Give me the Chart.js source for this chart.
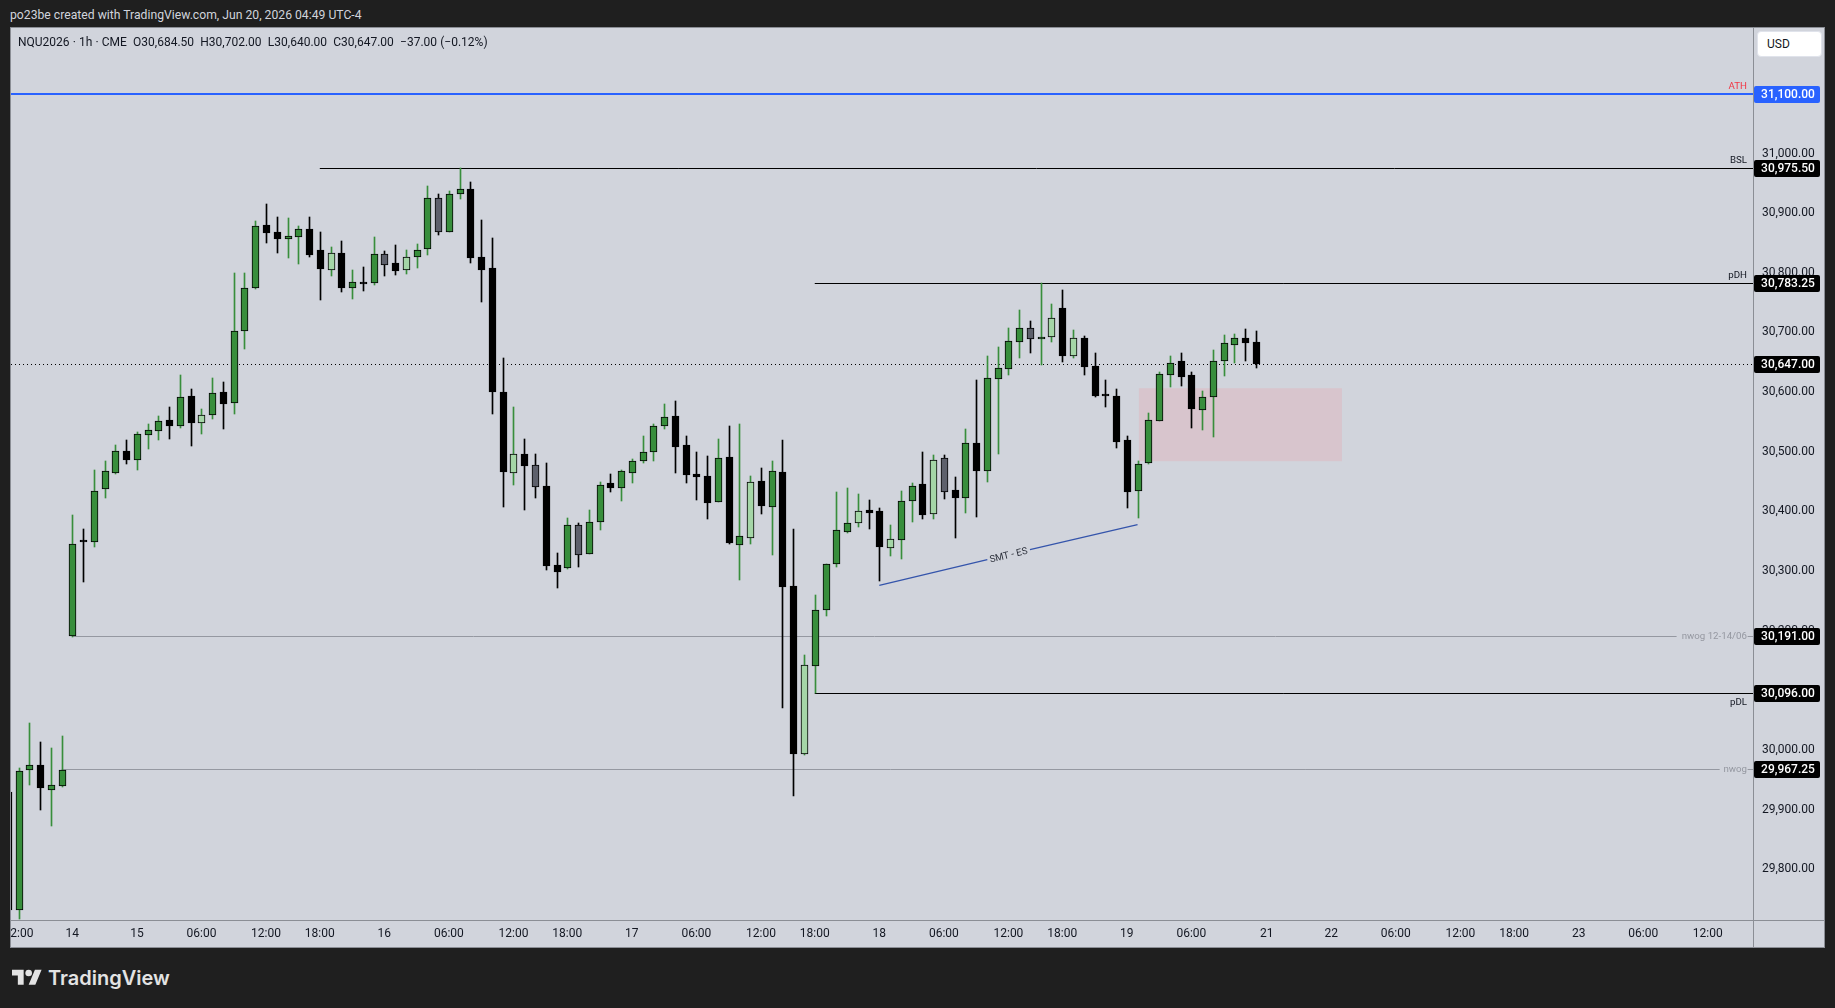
<!DOCTYPE html>
<html lang="en">
<head>
<meta charset="UTF-8">
<title>NQU2026 1h</title>
<script src="https://cdn.jsdelivr.net/npm/chart.js"></script>
<style>
  html, body { margin: 0; width: 1835px; height: 1008px; overflow: hidden; background: #1f1f1f; font-family: Roboto, sans-serif; }
  .abs { position: absolute; white-space: pre; }
  #panel { left: 10px; top: 27px; width: 1813px; height: 919px; background: #d1d4dc; border: 1px solid #8b8e95; }
  #chart { position: absolute; left: 11px; top: 28px; }
  #caption { left: 10px; top: 7px; color: #d1d4dc; font-size: 12.2px; line-height: 16px; }
  #legend { left: 18px; top: 34px; color: #131722; font-size: 12px; line-height: 16px; word-spacing: 0.15px; }
  #currency { left: 1757px; top: 31px; width: 54px; height: 24px; padding-left: 9px; line-height: 24px; background: #fff; border: 1px solid #e0e3eb; border-radius: 4px; color: #131722; font-size: 12px; }
  #logo { left: 12px; top: 966px; }
  #brand { left: 48px; top: 964px; color: #e3e3e3; font-family: Inter, sans-serif; font-weight: 600; font-size: 20px; line-height: 28px; }
</style>
</head>
<body>
<div class="abs" id="panel"></div>
<canvas id="chart" width="1813" height="919"></canvas>
<div class="abs" id="caption">po23be created with TradingView.com, Jun 20, 2026 04:49 UTC-4</div>
<div class="abs" id="legend">NQU2026 · 1h · CME  O30,684.50  H30,702.00  L30,640.00  C30,647.00  −37.00 (−0.12%)</div>
<div class="abs" id="currency">USD</div>
<svg class="abs" id="logo" width="30" height="24" viewBox="0 0 36 28" fill="#e3e3e3">
  <path d="M14 22H7V11H0V4h14v18zM28 22h-8l7.5-18h8L28 22z"/><circle cx="20" cy="8" r="4"/>
</svg>
<div class="abs" id="brand">TradingView</div>
<script>
// hourly candles, first one sits six slots left of the "14" label
const firstSlot = -6;
const opens = [29930,29731,29966,29974,29933,29940,
  30191,30351,30349,30438,30465,30502,30486,30528,30535,30553,30543,30593,30548,30562,30600,30581,30703,30775,30880,30868,30857,30860,30873,30838,30805,
  30833,30775,30784,30783,30832,30816,30805,30827,30840,30925,30869,30932,30940,30826,30808,30601,30465,30496,30477,30442,30310,30305,30378,30329,30382,
  30447,30439,30465,30485,30500,30543,30560,30511,30462,30459,30416,30491,30344,30355,30451,30408,30466,30275,29993,30141,30235,30312,30366,30381,30402,
  30400,30339,30352,30418,30446,30395,30490,30436,30423,30514,30468,30622,30639,30684,30708,30689,30692,30741,30660,30690,30643,30594,30593,30519,30434,
  30481,30552,30629,30652,30628,30570,30592,30652,30679,30690,30684.5];
const highs = [29935,29969,30045,30013,30003,30023,
  30394,30370,30469,30484,30511,30519,30533,30546,30560,30575,30628,30605,30571,30623,30617,30799,30799,30887,30915,30893,30892,30878,30893,30868,30843,
  30853,30804,30809,30860,30836,30846,30838,30848,30945,30932,30937,30975.5,30952,30888,30858,30658,30575,30521,30496,30481,30330,30389,30380,30402,30449,
  30462,30469,30488,30526,30546,30580,30585,30526,30499,30493,30521,30543,30546,30459,30472,30484,30519,30370,30159,30259,30311,30432,30439,30430,30419,
  30405,30378,30434,30447,30499,30494,30494,30457,30538,30620,30660,30675,30707,30737,30719,30783,30747,30771,30704,30694,30665,30620,30606,30526,30484,
  30565,30633,30660,30665,30633,30602,30670,30695,30697,30705,30702];
const lows = [29728,29716,29941,29899,29873,29938,
  30190,30281,30340,30422,30462,30479,30469,30504,30519,30521,30540,30509,30529,30555,30538,30563,30672,30773,30850,30833,30825,30814,30826,30754,30794,
  30768,30756,30769,30779,30794,30796,30798,30808,30830,30863,30868,30923,30816,30751,30563,30407,30444,30402,30422,30301,30271,30304,30306,30328,30369,
  30432,30417,30447,30481,30484,30538,30464,30447,30419,30387,30415,30345,30285,30345,30395,30327,30070,29922,29992,30096,30224,30306,30363,30373,30370,
  30283,30325,30320,30382,30387,30387,30420,30355,30397,30390,30449,30496,30628,30657,30665,30646,30684,30650,30657,30628,30591,30575,30506,30405,30389,
  30479,30551,30608,30610,30540,30536,30524,30627,30648,30653,30640];
const closes = [29731,29964,29974,29936,29942,29967,
  30345,30349,30435,30467,30502,30486,30529,30536,30551,30543,30591,30548,30561,30599,30580,30703,30774,30879,30867,30857,30861,30873,30830,30806,30834,
  30774,30784,30781,30831,30813,30803,30827,30839,30926,30869,30933,30940,30825,30804,30601,30466,30496,30476,30441,30308,30298,30378,30327,30383,30445,
  30439,30467,30485,30499,30544,30559,30508,30461,30457,30414,30490,30347,30358,30450,30409,30467,30273,29993,30142,30235,30311,30368,30380,30400,30397,
  30340,30353,30418,30443,30394,30487,30433,30422,30514,30467,30623,30640,30685,30708,30689,30692,30725,30660,30691,30642,30593,30593,30516,30432,30480,
  30554,30630,30648,30625,30571,30591,30653,30682,30691,30682,30647];
// candles the reference paints in the pale green / slate colours
const paleCandles = [12,24,31,41,63,68,73,76,80,91,93];
const slateCandles = [29,34,43,47,81,89];

const priceTicks = [29800,29900,30000,30200,30300,30400,30500,30600,30700,30800,30900,31000];
const timeSlots = [-5,0,6,12,18,23,29,35,41,46,52,58,64,69,75,81,87,92,98,104,111,117,123,129,134,140,146,152];
const timeLabels = ['12:00','14','15','06:00','12:00','18:00','16','06:00','12:00','18:00','17','06:00','12:00','18:00','18','06:00','12:00','18:00','19','06:00','21','22','06:00','12:00','18:00','23','06:00','12:00'];

const levelPrices = [31100,30975.5,30783.25,30647,30191,30096,29967.25];
const levelStarts = [-5.7,23,69,-5.7,0,69,-1];
const levelNames = ['ATH','BSL','pDH','','nwog 12-14/06','pDL','nwog'];
const levelGaps = [null,null,null,null,[149.1,155.7],null,[153.1,155.7]];
const zoneSlots = [99.1,118];
const zonePrices = [30606.5,30484];
const smtSlots = [75,85.04,89,99];
const smtPrices = [30276,30319,30336,30378];
const smtLabel = 'SMT - ES';

const slotMin = -5.7, slotMax = 156.2;
const priceMin = 29714.85, priceMax = 31210.55;

const GREEN = '#388e3c', PALE = '#a5d6a7', SLATE = '#5d606b', BLACK = '#000000';
const GREY = '#9598a1', BLUE = '#2962ff', DIVIDER = '#8b8e95';
const TEXT = '#131722';
const FONT = 'Roboto, sans-serif';

const slots = opens.map((_, i) => i + firstSlot);
const bodyColor = slots.map((s, i) => {
  if (paleCandles.includes(s)) return PALE;
  if (slateCandles.includes(s)) return SLATE;
  return closes[i] >= opens[i] ? GREEN : BLACK;
});
const wickColor = slots.map((s, i) => (closes[i] >= opens[i] ? GREEN : BLACK));

function levelDataset(i) {
  const y = levelPrices[i], gap = levelGaps[i];
  const pts = gap
    ? [{x: levelStarts[i], y}, {x: gap[0], y}, {x: gap[0], y: null}, {x: gap[1], y}, {x: slotMax, y}]
    : [{x: levelStarts[i], y}, {x: slotMax, y}];
  const color = i === 0 ? BLUE : (i === 4 || i === 6) ? GREY : BLACK;
  return {
    type: 'line', data: pts, level: true, order: 4, borderColor: color, borderWidth: i === 0 ? 2 : 1,
    borderDash: i === 3 ? [1, 3] : [], pointRadius: 0, tension: 0, fill: false, spanGaps: false
  };
}

// the plot has to fill the canvas edge to edge, so drop the label padding chart.js reserves
function fixAxisBox(axis) {
  axis.paddingLeft = axis.paddingRight = axis.paddingTop = axis.paddingBottom = 0;
  if (axis._margins) axis._margins = {left: 0, right: 0, top: 0, bottom: 0};
}

// keep bars and flat lines on whole pixels, the way the reference is drawn
const pixelSnap = {
  id: 'pixelSnap',
  beforeDatasetDraw(chart, args) {
    const meta = args.meta, ds = chart.data.datasets[args.index];
    if (meta.type === 'bar') {
      meta.data.forEach(el => {
        el.x = Math.round(el.x) + 0.5;
        el.y = Math.round(el.y);
        el.base = Math.round(el.base);
      });
    } else if (ds.level) {
      meta.data.forEach(pt => {
        pt.y = ds.borderWidth % 2 ? Math.round(pt.y) + 0.5 : Math.round(pt.y);
      });
    }
  }
};

const overlays = {
  id: 'overlays',
  afterDraw(chart) {
    const {ctx, scales: {x, y}, chartArea: area, width, height} = chart;
    ctx.save();

    // axis dividers
    ctx.fillStyle = DIVIDER;
    ctx.fillRect(0, Math.round(area.bottom), width, 1);
    ctx.fillRect(Math.round(area.right), 0, 1, height);

    // level names just inside the price axis
    ctx.textAlign = 'right';
    ctx.textBaseline = 'middle';
    ctx.font = '9.7px ' + FONT;
    levelNames.forEach((name, i) => {
      if (!name) return;
      const py = Math.round(y.getPixelForValue(levelPrices[i]));
      const offset = name === 'pDL' ? 10 : (levelGaps[i] ? 1 : -7);
      ctx.fillStyle = i === 0 ? '#f23645' : levelGaps[i] ? GREY : TEXT;
      ctx.fillText(name, area.right - 6, py + offset);
    });

    // rotated trendline label
    const x0 = x.getPixelForValue(smtSlots[1]), y0 = y.getPixelForValue(smtPrices[1]);
    const x1 = x.getPixelForValue(smtSlots[2]), y1 = y.getPixelForValue(smtPrices[2]);
    ctx.save();
    ctx.translate((x0 + x1) / 2, (y0 + y1) / 2 + 1);
    ctx.rotate(Math.atan2(y1 - y0, x1 - x0));
    ctx.textAlign = 'center';
    ctx.fillStyle = '#2a2e39';
    ctx.font = '9.7px ' + FONT;
    ctx.fillText(smtLabel, 0, 0);
    ctx.restore();

    // price flags
    ctx.textAlign = 'center';
    ctx.font = '500 12px ' + FONT;
    levelPrices.forEach((p, i) => {
      const py = Math.round(y.getPixelForValue(p));
      ctx.fillStyle = i === 0 ? BLUE : BLACK;
      ctx.beginPath();
      ctx.roundRect(area.right + 1, py - 8, 66, 17, 2);
      ctx.fill();
      ctx.fillStyle = '#ffffff';
      ctx.fillText(p.toLocaleString('en-US', {minimumFractionDigits: 2, maximumFractionDigits: 2}), area.right + 35, py + 1);
    });
    ctx.restore();
  }
};

new Chart(document.getElementById('chart'), {
  type: 'bar',
  plugins: [pixelSnap, overlays],
  data: {
    datasets: [
      {
        type: 'bar', order: 1, grouped: false, barThickness: 7, minBarLength: 2,
        data: slots.map((s, i) => ({x: s, y: [opens[i], closes[i]]})),
        backgroundColor: bodyColor, borderColor: BLACK, borderWidth: 1, borderSkipped: false
      },
      {
        type: 'bar', order: 2, grouped: false, barThickness: 1,
        data: slots.map((s, i) => ({x: s, y: [lows[i], highs[i]]})),
        backgroundColor: wickColor, borderWidth: 0
      },
      {
        type: 'line', order: 3, borderColor: '#3454ab', borderWidth: 1.3, pointRadius: 0, tension: 0, spanGaps: false,
        data: [
          {x: smtSlots[0], y: smtPrices[0]}, {x: smtSlots[1], y: smtPrices[1]},
          {x: smtSlots[1], y: null},
          {x: smtSlots[2], y: smtPrices[2]}, {x: smtSlots[3], y: smtPrices[3]}
        ]
      },
      ...levelPrices.map((_, i) => levelDataset(i)),
      {
        type: 'line', order: 5, borderWidth: 0, pointRadius: 0, tension: 0,
        backgroundColor: '#d8c5cd', fill: {value: zonePrices[1]},
        data: [{x: zoneSlots[0], y: zonePrices[0]}, {x: zoneSlots[1], y: zonePrices[0]}]
      }
    ]
  },
  options: {
    responsive: false,
    animation: false,
    devicePixelRatio: 1,
    layout: {autoPadding: false, padding: 0},
    plugins: {legend: {display: false}, tooltip: {enabled: false}},
    scales: {
      x: {
        type: 'linear', offset: false, min: slotMin, max: slotMax,
        grid: {display: false, drawTicks: false, tickLength: 0}, border: {display: false},
        afterBuildTicks: axis => { axis.ticks = timeSlots.map(value => ({value})); },
        afterFit: axis => { axis.height = 27; fixAxisBox(axis); },
        ticks: {
          autoSkip: false, maxRotation: 0, minRotation: 0, padding: 7,
          color: TEXT, font: {family: FONT, size: 12},
          callback: (value, index) => timeLabels[index]
        }
      },
      y: {
        type: 'linear', position: 'right', min: priceMin, max: priceMax,
        grid: {display: false, drawTicks: false, tickLength: 0}, border: {display: false},
        afterBuildTicks: axis => { axis.ticks = priceTicks.map(value => ({value})); },
        afterFit: axis => { axis.width = 71; fixAxisBox(axis); },
        ticks: {
          autoSkip: false, padding: 9, color: TEXT, font: {family: FONT, size: 12},
          callback: value => value.toLocaleString('en-US', {minimumFractionDigits: 2, maximumFractionDigits: 2})
        }
      }
    }
  }
});
</script>
</body>
</html>
